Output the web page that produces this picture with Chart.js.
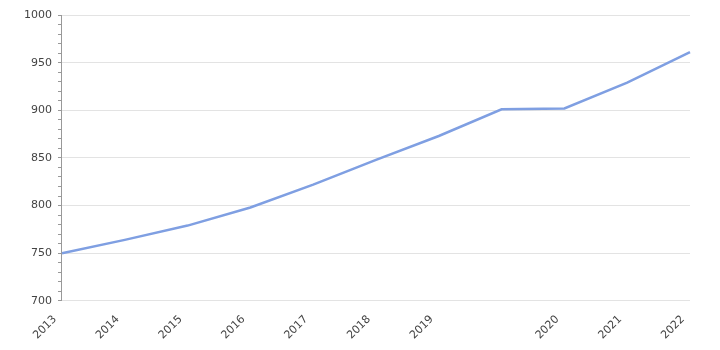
<!DOCTYPE html>
<html>
<head>
<meta charset="utf-8">
<script src="https://cdn.jsdelivr.net/npm/chart.js@4"></script>
<style>
  html, body { margin: 0; padding: 0; background: #fff; }
  #wrap { width: 720px; height: 350px; }
</style>
</head>
<body>
<div id="wrap"><canvas id="lineChart"></canvas></div>
<script>
// 横軸ラベル（2019と2020の間にラベルなしの点がある）
const years = ['2013', '2014', '2015', '2016', '2017', '2018', '2019', '', '2020', '2021', '2022'];
// 値
const values = [750, 764, 779, 798, 822, 848, 873, 901, 902, 929, 961];
// 縦軸
const yMin = 700;
const yMax = 1000;
const yMajor = 50;
const yMinor = 10;

Chart.defaults.font.family = '"DejaVu Sans", Verdana, sans-serif';
Chart.defaults.font.size = 11;
Chart.defaults.color = '#444';

document.addEventListener('DOMContentLoaded', () => {
  const ctx = document.getElementById('lineChart');

  new Chart(ctx, {
    type: 'line',
    data: {
      labels: years,
      datasets: [{
        data: values,
        borderColor: '#7f9fe2',
        borderWidth: 2.5,
        pointRadius: 0,
        tension: 0,
        fill: false,
      }],
    },
    options: {
      responsive: true,
      maintainAspectRatio: false,
      animation: false,
      layout: {
        padding: { left: 18, right: 30, top: 15, bottom: 4 },
      },
      plugins: {
        legend: { display: false },
        tooltip: { enabled: false },
      },
      scales: {
        x: {
          offset: false,
          grid: { display: false },
          border: { display: false },
          ticks: {
            autoSkip: false,
            maxRotation: 45,
            minRotation: 45,
            padding: 4,
            labelOffset: -7,
          },
        },
        y: {
          min: yMin,
          max: yMax,
          grid: {
            // 50刻みだけ横線、10刻みは目盛りだけ
            color: (c) => (c.tick && c.tick.value % yMajor === 0) ? '#e3e3e3' : 'rgba(0,0,0,0)',
            tickColor: '#999',
            tickLength: 4,
            lineWidth: 1,
          },
          border: { display: true, color: '#999', width: 1 },
          ticks: {
            stepSize: yMinor,
            autoSkip: false,
            padding: 6,
            callback: (v) => (v % yMajor === 0 ? v : ''),
          },
        },
      },
    },
  });
});
</script>
</body>
</html>
